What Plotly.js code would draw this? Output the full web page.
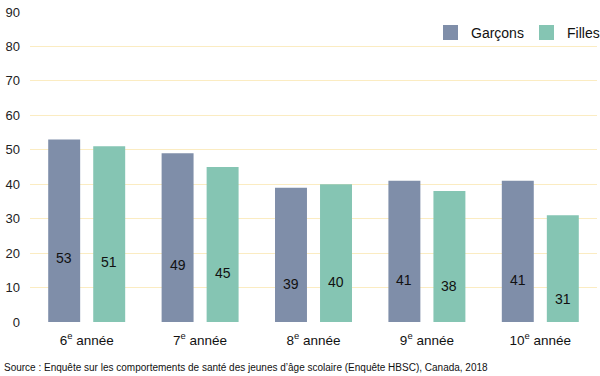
<!DOCTYPE html>
<html><head><meta charset="utf-8">
<script src="https://cdn.plot.ly/plotly-3.0.1.min.js"></script>
<style>html,body{margin:0;padding:0;background:#fff}#chart{width:600px;height:376px}</style>
</head><body><div id="chart"></div>
<script>
const categories = ["6e année","7e année","8e année","9e année","10e année"];
const tickLabels = ["6<sup>e</sup> année","7<sup>e</sup> année","8<sup>e</sup> année","9<sup>e</sup> année","10<sup>e</sup> année"];
const seriesNames = ["Garçons","Filles"];
const garcons = [53,49,39,41,41];
const filles = [51,45,40,38,31];
const sourceText = "Source : Enquête sur les comportements de santé des jeunes d’âge scolaire (Enquête HBSC), Canada, 2018";

const colors = ["#7f8ea9","#85c5b3"];
const font = "Liberation Sans, Arial, sans-serif";
const seriesVals = [garcons, filles];

const traces = seriesVals.map((vals,i)=>({
  type:"bar", name:seriesNames[i], x:categories, y:vals,
  marker:{color:colors[i], line:{width:0}},
  hoverinfo:"skip", showlegend:false
}));

const annotations = [];
const shapes = [];
seriesVals.forEach((vals,i)=>{
  vals.forEach((v,j)=>{
    annotations.push({
      x:j + (i===0?-0.198:0.198), y:v*0.54-10, xref:"x", yref:"y",
      text:String(v), showarrow:false,
      font:{family:font,size:14,color:"#111"}
    });
  });
});
// custom legend
const W = 567, H = 310, L = 30, T = 12;
const px = x => (x - L) / W;
const py = y => (T + H - y) / H;
const legendSwatchX = [443, 539];
seriesNames.forEach((name,i)=>{
  const x0 = legendSwatchX[i];
  shapes.push({type:"rect", xref:"paper", yref:"paper",
    x0:px(x0), x1:px(x0+15), y0:py(40), y1:py(25),
    fillcolor:colors[i], line:{width:0}});
  annotations.push({xref:"paper", yref:"paper", x:px(x0+26), y:py(32.5),
    xanchor:"left", yanchor:"middle", text:name, showarrow:false,
    font:{family:font,size:14,color:"#111"}});
});
annotations.push({
  xref:"paper", yref:"paper", x:px(2), y:py(367), xanchor:"left", yanchor:"middle",
  text:sourceText, showarrow:false, font:{family:font,size:10,color:"#111"}
});

const layout = {
  width:600, height:376,
  margin:{l:30,r:3,t:12,b:54},
  paper_bgcolor:"#fff", plot_bgcolor:"#fff",
  barmode:"group", bargap:0.206, bargroupgap:0.29,
  font:{family:font,color:"#111"},
  xaxis:{type:"category", tickvals:categories, ticktext:tickLabels,
    showgrid:false, zeroline:false, showline:false, ticks:"", ticklabelstandoff:8,
    tickfont:{family:font,size:13.5,color:"#111"}},
  yaxis:{range:[0,90], dtick:10, tick0:0, showgrid:true, gridcolor:"#fbecc2", gridwidth:1,
    zeroline:false, showline:false, ticks:"", ticklabelstandoff:9,
    tickfont:{family:font,size:13,color:"#222"}},
  showlegend:false,
  shapes:shapes,
  annotations:annotations
};
Plotly.newPlot("chart", traces, layout, {displayModeBar:false, staticPlot:true});
</script></body></html>
